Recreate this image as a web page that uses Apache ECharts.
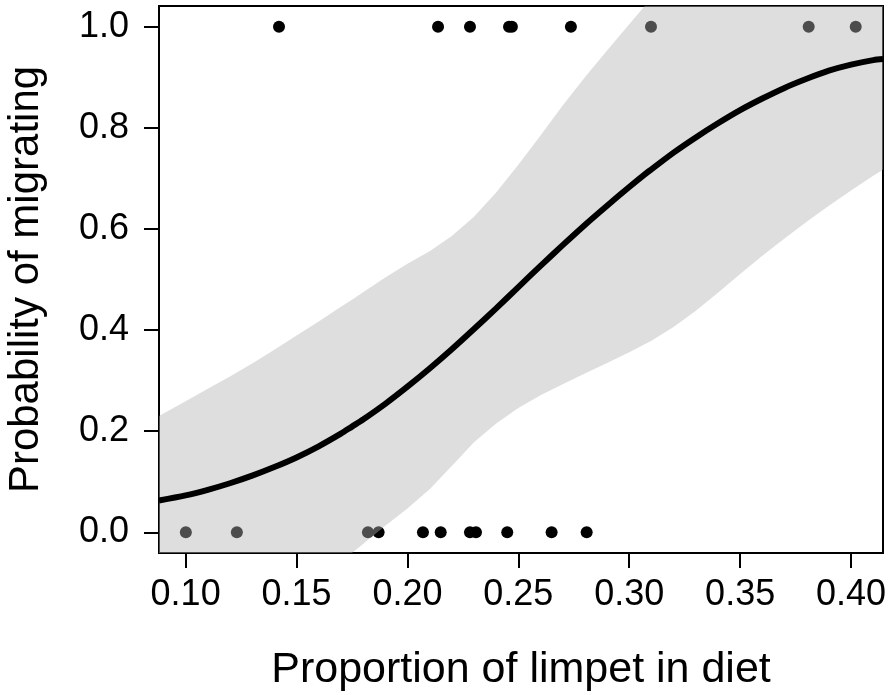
<!DOCTYPE html>
<html>
<head>
<meta charset="utf-8">
<script src="https://cdn.jsdelivr.net/npm/echarts@6/dist/echarts.min.js"></script>
<style>
  html, body { margin: 0; padding: 0; background: #fff; }
  #chart { width: 891px; height: 695px; }
</style>
</head>
<body>
<div id="chart"></div>
<script>
// Observed birds: proportion of limpet in diet, split by outcome
const migratedNo  = [0.1001, 0.1231, 0.1822, 0.1870, 0.2070, 0.2150, 0.2282, 0.2309, 0.2450, 0.2650, 0.2808];
const migratedYes = [0.1421, 0.2138, 0.2282, 0.2458, 0.2471, 0.2737, 0.3098, 0.3809, 0.4021];

// Fitted logistic curve and its confidence band, sampled along the diet axis
const dietGrid  = [0.088, 0.10, 0.11, 0.12, 0.13, 0.14, 0.15, 0.16, 0.17, 0.175, 0.18, 0.19, 0.20, 0.21, 0.22, 0.23, 0.24, 0.25,
                   0.26, 0.27, 0.28, 0.29, 0.30, 0.307, 0.31, 0.32, 0.33, 0.34, 0.35, 0.36, 0.37, 0.38, 0.39, 0.40, 0.41, 0.4144];
const fitted    = [0.063, 0.073, 0.084, 0.097, 0.112, 0.129, 0.148, 0.170, 0.195, 0.209, 0.223, 0.254, 0.288, 0.324, 0.362, 0.402, 0.443, 0.485,
                   0.527, 0.568, 0.608, 0.646, 0.683, 0.708, 0.718, 0.751, 0.781, 0.809, 0.835, 0.858, 0.879, 0.897, 0.913, 0.925, 0.934, 0.936];
const bandLower = [-0.041, -0.041, -0.041, -0.041, -0.041, -0.041, -0.041, -0.041, -0.041, -0.041, -0.023, 0.013, 0.047, 0.085, 0.131, 0.178, 0.215, 0.246,
                   0.271, 0.293, 0.314, 0.335, 0.356, 0.372, 0.379, 0.406, 0.438, 0.474, 0.511, 0.547, 0.581, 0.614, 0.646, 0.676, 0.705, 0.717];
const bandUpper = [0.230, 0.259, 0.284, 0.308, 0.334, 0.361, 0.389, 0.417, 0.446, 0.460, 0.475, 0.504, 0.531, 0.556, 0.586, 0.624, 0.672, 0.727,
                   0.785, 0.844, 0.900, 0.953, 1.005, 1.041, 1.041, 1.041, 1.041, 1.041, 1.041, 1.041, 1.041, 1.041, 1.041, 1.041, 1.041, 1.041];

// Axis ranges and tick labels
const xRange = [0.088, 0.4144];
const yRange = [-0.041, 1.041];
const xTicks = [0.10, 0.15, 0.20, 0.25, 0.30, 0.35, 0.40];
const yTicks = [0.0, 0.2, 0.4, 0.6, 0.8, 1.0];

const FONT = '"Liberation Sans", Arial, Helvetica, sans-serif';

const chart = echarts.init(document.getElementById('chart'), null, { renderer: 'canvas' });

// Confidence band as one translucent polygon: upper edge left-to-right, lower edge back
const bandData = dietGrid.map((x, i) => [x, bandLower[i], bandUpper[i]]);
function renderBand(params, api) {
  if (params.dataIndex !== 0) return null;
  const pts = [];
  for (let i = 0; i < bandData.length; i++) {
    pts.push(api.coord([bandData[i][0], bandData[i][2]]));
  }
  for (let i = bandData.length - 1; i >= 0; i--) {
    pts.push(api.coord([bandData[i][0], bandData[i][1]]));
  }
  const cs = params.coordSys;
  return {
    type: 'polygon',
    shape: { points: pts },
    style: { fill: 'rgba(178,178,178,0.43)', stroke: null },
    clipPath: { type: 'rect', shape: { x: cs.x, y: cs.y, width: cs.width, height: cs.height } }
  };
}

const option = {
  animation: false,
  backgroundColor: '#ffffff',
  grid: {
    left: 159, right: 8, top: 6, bottom: 142,
    containLabel: false,
    outerBoundsMode: 'none',
    show: true, borderColor: '#000', borderWidth: 2, backgroundColor: 'transparent'
  },
  xAxis: {
    type: 'value',
    min: xRange[0], max: xRange[1],
    name: 'Proportion of limpet in diet',
    nameLocation: 'middle',
    nameGap: 96,
    nameTextStyle: { fontFamily: FONT, fontSize: 43, color: '#000' },
    axisLine: { show: true, onZero: false, lineStyle: { color: '#000', width: 2 } },
    axisTick: { show: true, length: 15, lineStyle: { color: '#000', width: 2 }, customValues: xTicks },
    axisLabel: {
      fontFamily: FONT, fontSize: 36, color: '#000', margin: 24,
      customValues: xTicks,
      formatter: v => v.toFixed(2)
    },
    splitLine: { show: false }
  },
  yAxis: {
    type: 'value',
    min: yRange[0], max: yRange[1],
    name: 'Probability of migrating',
    nameLocation: 'middle',
    nameGap: 112,
    nameRotate: 90,
    nameTextStyle: { fontFamily: FONT, fontSize: 42, color: '#000' },
    axisLine: { show: true, onZero: false, lineStyle: { color: '#000', width: 2 } },
    axisTick: { show: true, length: 15, lineStyle: { color: '#000', width: 2 }, customValues: yTicks },
    axisLabel: {
      fontFamily: FONT, fontSize: 36, color: '#000', margin: 30,
      customValues: yTicks,
      formatter: v => v.toFixed(1)
    },
    splitLine: { show: false }
  },
  series: [
    {
      name: 'no',
      type: 'scatter',
      z: 1,
      symbol: 'circle',
      symbolSize: 12,
      itemStyle: { color: '#000', opacity: 1 },
      data: migratedNo.map(x => [x, 0])
    },
    {
      name: 'yes',
      type: 'scatter',
      z: 1,
      symbol: 'circle',
      symbolSize: 12,
      itemStyle: { color: '#000', opacity: 1 },
      data: migratedYes.map(x => [x, 1])
    },
    {
      name: 'band',
      type: 'custom',
      z: 2,
      renderItem: renderBand,
      data: bandData,
      encode: { x: 0, y: [1, 2] },
      silent: true
    },
    {
      name: 'fit',
      type: 'line',
      z: 3,
      symbol: 'none',
      smooth: 0.3,
      clip: true,
      lineStyle: { color: '#000', width: 6 },
      data: dietGrid.map((x, i) => [x, fitted[i]])
    }
  ]
};

chart.setOption(option);
</script>
</body>
</html>
